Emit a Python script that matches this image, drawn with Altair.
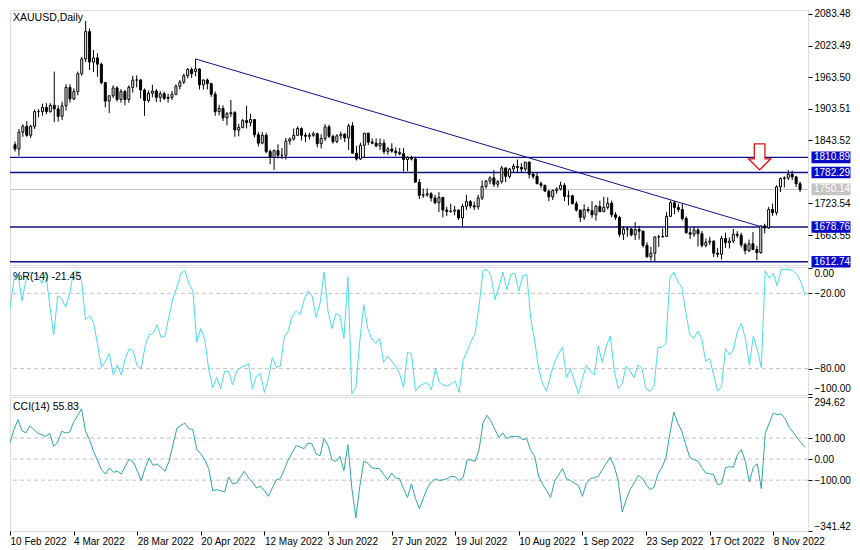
import json
import altair as alt
import pandas as pd

# ---------------- data ----------------
open_ = [
    1835, 1827, 1859, 1870, 1853, 1870, 1898, 1898, 1906, 1898,
    1910, 1903, 1889, 1909, 1944, 1922, 1936, 1970, 1998, 2050,
    1992, 2000, 1988, 1953, 1918, 1928, 1943, 1921, 1936, 1921,
    1944, 1958, 1958, 1939, 1919, 1933, 1937, 1925, 1932, 1923,
    1925, 1931, 1946, 1954, 1966, 1978, 1974, 1979, 1949, 1958,
    1951, 1931, 1898, 1904, 1886, 1894, 1896, 1863, 1868, 1881,
    1877, 1883, 1854, 1838, 1853, 1822, 1811, 1824, 1815, 1815,
    1842, 1846, 1853, 1866, 1853, 1851, 1853, 1856, 1837, 1847,
    1869, 1851, 1841, 1852, 1855, 1848, 1871, 1819, 1808, 1834,
    1857, 1840, 1838, 1833, 1838, 1822, 1827, 1823, 1820, 1818,
    1807, 1811, 1808, 1764, 1739, 1740, 1742, 1734, 1725, 1735,
    1711, 1708, 1709, 1711, 1696, 1718, 1727, 1719, 1717, 1734,
    1756, 1766, 1772, 1760, 1765, 1791, 1775, 1789, 1794, 1792,
    1789, 1802, 1779, 1775, 1761, 1758, 1747, 1736, 1748, 1751,
    1758, 1737, 1738, 1723, 1711, 1697, 1712, 1710, 1702, 1718,
    1708, 1716, 1724, 1702, 1697, 1665, 1675, 1675, 1664, 1674,
    1671, 1644, 1622, 1629, 1660, 1660, 1661, 1699, 1725, 1716,
    1712, 1695, 1668, 1665, 1673, 1666, 1644, 1650, 1652, 1629,
    1627, 1657, 1649, 1652, 1665, 1663, 1645, 1634, 1647, 1636,
    1630, 1681, 1677, 1712, 1706, 1755, 1771, 1772, 1779, 1774,
    1761,
]
high = [
    1841, 1865, 1874, 1880, 1873, 1902, 1903, 1913, 1914, 1914,
    1974, 1910, 1917, 1950, 1950, 1942, 1974, 2002, 2070, 2056,
    2015, 2009, 1991, 1954, 1929, 1948, 1946, 1941, 1939, 1948,
    1966, 1967, 1960, 1942, 1938, 1949, 1941, 1937, 1936, 1932,
    1937, 1950, 1958, 1970, 1981, 1982, 1998, 1980, 1959, 1961,
    1953, 1936, 1911, 1910, 1897, 1920, 1899, 1875, 1884, 1909,
    1894, 1884, 1859, 1859, 1858, 1826, 1826, 1836, 1829, 1848,
    1849, 1866, 1870, 1868, 1858, 1858, 1860, 1858, 1855, 1874,
    1873, 1854, 1855, 1860, 1857, 1875, 1878, 1833, 1839, 1857,
    1858, 1847, 1847, 1847, 1845, 1831, 1838, 1830, 1829, 1829,
    1813, 1814, 1812, 1770, 1752, 1752, 1745, 1740, 1745, 1736,
    1717, 1723, 1719, 1712, 1723, 1740, 1730, 1727, 1740, 1767,
    1768, 1775, 1787, 1768, 1795, 1792, 1791, 1799, 1807, 1800,
    1802, 1803, 1783, 1782, 1765, 1759, 1749, 1750, 1754, 1765,
    1762, 1748, 1740, 1728, 1711, 1722, 1717, 1728, 1721, 1729,
    1736, 1735, 1729, 1707, 1700, 1680, 1680, 1677, 1688, 1681,
    1672, 1650, 1641, 1660, 1664, 1676, 1707, 1729, 1728, 1723,
    1723, 1699, 1677, 1679, 1677, 1671, 1657, 1660, 1654, 1639,
    1662, 1668, 1659, 1675, 1671, 1668, 1649, 1655, 1669, 1643,
    1681, 1685, 1717, 1723, 1758, 1773, 1775, 1787, 1786, 1776,
    1765,
]
low = [
    1822, 1814, 1850, 1850, 1848, 1865, 1887, 1890, 1893, 1896,
    1878, 1879, 1882, 1900, 1915, 1920, 1929, 1966, 1992, 1977,
    1973, 1964, 1950, 1906, 1895, 1924, 1917, 1915, 1910, 1915,
    1934, 1944, 1923, 1890, 1915, 1925, 1916, 1916, 1920, 1915,
    1920, 1929, 1940, 1950, 1961, 1962, 1965, 1940, 1940, 1940,
    1926, 1890, 1891, 1880, 1872, 1888, 1850, 1851, 1866, 1866,
    1870, 1849, 1832, 1836, 1819, 1798, 1787, 1809, 1808, 1807,
    1835, 1843, 1852, 1843, 1840, 1845, 1850, 1830, 1828, 1842,
    1848, 1837, 1838, 1845, 1840, 1825, 1819, 1805, 1806, 1811,
    1834, 1836, 1830, 1825, 1817, 1816, 1820, 1814, 1815, 1784,
    1785, 1805, 1763, 1732, 1734, 1736, 1727, 1722, 1707, 1697,
    1700, 1706, 1701, 1692, 1680, 1711, 1714, 1711, 1712, 1730,
    1752, 1760, 1755, 1754, 1761, 1764, 1771, 1783, 1781, 1783,
    1785, 1771, 1770, 1760, 1753, 1745, 1728, 1730, 1742, 1748,
    1728, 1720, 1722, 1708, 1688, 1692, 1706, 1696, 1691, 1707,
    1707, 1712, 1697, 1692, 1660, 1654, 1660, 1661, 1654, 1655,
    1640, 1621, 1615, 1614, 1641, 1659, 1660, 1698, 1703, 1707,
    1691, 1666, 1656, 1660, 1642, 1640, 1640, 1645, 1622, 1621,
    1617, 1639, 1638, 1648, 1658, 1640, 1627, 1631, 1635, 1616,
    1628, 1667, 1675, 1700, 1701, 1745, 1754, 1768, 1768, 1755,
    1745,
]
close = [
    1827, 1859, 1870, 1853, 1870, 1898, 1898, 1906, 1898, 1910,
    1903, 1889, 1909, 1944, 1922, 1936, 1970, 1998, 2050, 1992,
    2000, 1988, 1953, 1918, 1928, 1943, 1921, 1936, 1921, 1944,
    1958, 1958, 1939, 1919, 1933, 1937, 1925, 1932, 1923, 1925,
    1931, 1946, 1954, 1966, 1978, 1970, 1979, 1949, 1958, 1951,
    1931, 1898, 1904, 1886, 1894, 1896, 1863, 1868, 1881, 1877,
    1883, 1854, 1838, 1853, 1822, 1811, 1824, 1815, 1815, 1842,
    1846, 1853, 1866, 1853, 1851, 1853, 1856, 1837, 1847, 1869,
    1851, 1841, 1852, 1855, 1848, 1871, 1819, 1808, 1834, 1857,
    1840, 1838, 1833, 1838, 1822, 1827, 1823, 1820, 1818, 1807,
    1811, 1808, 1764, 1739, 1740, 1742, 1734, 1725, 1735, 1711,
    1708, 1709, 1711, 1696, 1718, 1727, 1719, 1717, 1734, 1756,
    1766, 1772, 1760, 1765, 1791, 1775, 1789, 1794, 1792, 1789,
    1802, 1779, 1775, 1761, 1758, 1747, 1736, 1748, 1751, 1758,
    1737, 1738, 1723, 1711, 1697, 1712, 1710, 1702, 1718, 1708,
    1716, 1724, 1702, 1697, 1665, 1675, 1675, 1664, 1674, 1671,
    1644, 1622, 1629, 1660, 1660, 1661, 1699, 1725, 1716, 1712,
    1695, 1668, 1665, 1673, 1666, 1644, 1650, 1652, 1629, 1627,
    1657, 1649, 1652, 1665, 1663, 1645, 1634, 1647, 1636, 1630,
    1681, 1677, 1712, 1706, 1755, 1771, 1772, 1779, 1774, 1761,
    1750.14,
]
williams_r = [
    -32, -9, -4, -26, -10, -3, -4, -6, -12, -3,
    -30, -53, -22, -24, -31, -20, -3, -2, -10, -41,
    -38, -43, -60, -79, -74, -68, -85, -77, -85, -72,
    -64, -66, -78, -80, -62, -53, -52, -45, -55, -54,
    -38, -24, -15, -4, -2, -12, -18, -59, -48, -57,
    -81, -95, -87, -96, -82, -82, -93, -82, -79, -78,
    -76, -96, -86, -84, -99, -88, -71, -79, -78, -55,
    -50, -38, -34, -37, -25, -18, -22, -39, -28, -3,
    -34, -48, -36, -38, -56, -7, -100, -95, -58, -29,
    -48, -56, -60, -56, -75, -70, -74, -78, -84, -95,
    -67, -68, -98, -94, -92, -91, -97, -80, -91, -93,
    -94, -92, -90, -99, -73, -66, -58, -52, -30, -2,
    -1, -6, -25, -15, -3, -17, -5, -4, -18, -6,
    -5, -40, -58, -80, -92, -98, -85, -75, -68, -63,
    -87, -80, -90, -100, -88, -77, -82, -85, -62, -75,
    -62, -54, -81, -96, -92, -78, -82, -87, -77, -80,
    -96, -98, -94, -63, -63, -60, -8, -3, -11, -15,
    -35, -53, -56, -50, -56, -74, -72, -85, -98, -94,
    -64, -69, -65, -50, -44, -56, -77, -54, -65, -79,
    -2, -8, -4, -14, -1, -1, -1, -2, -5, -11,
    -21.45,
]
cci = [
    76, 140, 187, 135, 124, 158, 140, 124, 116, 108,
    121, 60, 81, 132, 124, 128, 176, 205, 239, 132,
    92, 37, -5, -50, -71, -42, -63, -58, -71, -34,
    0, -14, -55, -102, -42, 5, -30, -23, -40, -58,
    -11, 68, 147, 160, 171, 144, 140, 45, 24, -3,
    -46, -150, -145, -150, -156, -85, -118, -114, -85, -58,
    -90, -110, -137, -129, -150, -177, -137, -98, -93, -50,
    -3, 30, 65, 57, 49, 76, 72, 24, 16, 97,
    65, -3, -11, 13, -55, 68, -137, -280, -129, -11,
    -19, -42, -44, -46, -74, -98, -66, -90, -93, -140,
    -182, -118, -188, -235, -185, -137, -109, -93, -102, -98,
    -93, -82, -84, -102, -87, -3, -5, -11, 45, 171,
    208, 179, 140, 103, 124, 97, 108, 106, 108, 92,
    97, 40, 13, -82, -120, -150, -182, -106, -75, -46,
    -93, -102, -115, -125, -177, -114, -93, -88, -82, -50,
    -20, 8, -34, -102, -251, -193, -145, -114, -77, -90,
    -120, -145, -134, -70, -40, 5, 120, 223, 170, 132,
    68, 8, -3, -8, -40, -66, -70, -74, -121, -118,
    -40, -36, -39, 21, 45, -11, -109, -39, -23, -140,
    124, 170, 218, 211, 214, 192, 151, 128, 100, 78,
    55.83,
]

tick_positions = [0, 16, 32, 48, 64, 80, 96, 112, 128, 144, 160, 176, 192]
tick_labels = ["10 Feb 2022", "4 Mar 2022", "28 Mar 2022", "20 Apr 2022",
               "12 May 2022", "3 Jun 2022", "27 Jun 2022", "19 Jul 2022",
               "10 Aug 2022", "1 Sep 2022", "23 Sep 2022", "17 Oct 2022",
               "8 Nov 2022"]
price_ticks = [2083.48, 2023.49, 1963.50, 1903.51, 1843.52, 1723.54, 1663.55]
level_prices = [1810.89, 1782.29, 1678.76, 1612.74]
bid_price = 1750.14
box_prices = [1810.89, 1782.29, 1750.14, 1678.76, 1612.74]
box_colors = ["#0a0ac8", "#0a0ac8", "#c4c4c4", "#0a0ac8", "#0a0ac8"]
trend_bar = [46, 190]
trend_price = [1998.0, 1679.5]
arrow_bar = [189.7]
arrow_price = [1812.0]
wr_levels = [-20, -80]
cci_levels = [100, 0, -100]

# ---------------- frames ----------------
n = len(close)
dates = [d for d in pd.bdate_range("2022-02-10", "2022-11-18")
         if d != pd.Timestamp("2022-04-15")][:n]
df = pd.DataFrame({
    "i": list(range(n)), "date": [d.strftime("%Y-%m-%d") for d in dates],
    "open": open_, "high": high, "low": low, "close": close,
    "wr": williams_r, "cci": cci,
})
levels_df = pd.DataFrame({"price": level_prices})
bid_df = pd.DataFrame({"price": [bid_price]})
boxes_df = pd.DataFrame({"price": box_prices,
                         "label": [f"{p:.2f}" for p in box_prices],
                         "col": box_colors})
trend_df = pd.DataFrame({"i": trend_bar, "price": trend_price})
arrow_df = pd.DataFrame({"i": arrow_bar, "price": arrow_price})

W = 798
H1, H2, H3 = 255, 128, 134
FONT = "Liberation Sans"
NAVY = "#10108a"

xs = alt.Scale(domain=[0, 200.75], nice=False, zero=False)
ys_price = alt.Scale(domain=[1606.6, 2091.0], nice=False, zero=False)
ys_wr = alt.Scale(domain=[-101, 1], nice=False, zero=False)
ys_cci = alt.Scale(domain=[-341.42, 294.62], nice=False, zero=False)

common_axis = dict(orient="right", format=".2f", tickSize=4, tickColor="black",
                   labelColor="black", labelFontSize=10, labelFont=FONT,
                   labelPadding=2, domain=False, grid=False)
price_axis = alt.Axis(values=price_ticks, **common_axis)
wr_axis = alt.Axis(values=[0, -20, -80, -100], labelBaseline={
    "condition": [{"test": "datum.value > -1", "value": "top"},
                  {"test": "datum.value < -99", "value": "bottom"}],
    "value": "middle"}, **common_axis)
cci_axis = alt.Axis(values=[294.62, 100, 0, -100, -341.42], labelBaseline={
    "condition": [{"test": "datum.value > 200", "value": "top"},
                  {"test": "datum.value < -200", "value": "bottom"}],
    "value": "middle"}, **common_axis)


def PX(field="i"):
    return alt.X(f"{field}:Q", scale=xs, axis=None)


def PY(field):
    return alt.Y(f"{field}:Q", scale=ys_price, axis=price_axis, title=None)


# ---------------- price panel ----------------
lines = alt.Chart(levels_df).mark_rule(color=NAVY, strokeWidth=1.3).encode(y=PY("price"))
bid_line = alt.Chart(bid_df).mark_rule(color="#c0c0c0", strokeWidth=1).encode(y=PY("price"))
trend = alt.Chart(trend_df).mark_line(color=NAVY, strokeWidth=1).encode(x=PX(), y=PY("price"))
wicks = alt.Chart(df).mark_rule(color="black", strokeWidth=1, clip=True).encode(
    x=PX(), y=PY("low"), y2="high:Q")
bodies = alt.Chart(df).mark_bar(size=2, stroke="black", strokeWidth=1, clip=True).encode(
    x=PX(), y=PY("open"), y2="close:Q",
    fill=alt.condition("datum.close >= datum.open", alt.value("white"), alt.value("black")),
    tooltip=["date:N", "open:Q", "high:Q", "low:Q", "close:Q"])
arrow = alt.Chart(arrow_df).mark_point(
    shape="M -0.41 -1 L 0.41 -1 L 0.41 0.15 L 0.85 0.15 L 0 1 L -0.85 0.15 L -0.41 0.15 Z",
    size=676, filled=True, fill="white", stroke="#e01010", strokeWidth=1.3, opacity=1
).encode(x=PX(), y=PY("price"))
boxes = alt.Chart(boxes_df).mark_point(
    shape="M -1 -0.3 L 1 -0.3 L 1 0.3 L -1 0.3 Z", size=1521, filled=True, opacity=1,
    strokeWidth=0
).encode(x=alt.value(W + 23), y=PY("price"), fill=alt.Fill("col:N", scale=None))
box_text = alt.Chart(boxes_df).mark_text(
    align="left", baseline="middle", color="white", fontSize=10, font=FONT
).encode(x=alt.value(W + 6), y=PY("price"), text="label:N")
title1 = alt.Chart(pd.DataFrame({"t": ["XAUUSD,Daily"]})).mark_text(
    align="left", baseline="middle", fontSize=10.5, font=FONT, color="black"
).encode(x=alt.value(3), y=alt.value(8), text="t:N")

price_panel = alt.layer(lines, bid_line, trend, wicks, bodies, arrow, boxes, box_text,
                        title1).properties(width=W, height=H1)

# ---------------- %R panel ----------------
wr_lines = alt.Chart(pd.DataFrame({"v": wr_levels})).mark_rule(
    color="#c0c0c0", strokeDash=[4, 3], strokeWidth=1
).encode(y=alt.Y("v:Q", scale=ys_wr, axis=wr_axis, title=None))
wr_line = alt.Chart(df).mark_line(color="#48dde6", strokeWidth=1, clip=True).encode(
    x=PX(), y=alt.Y("wr:Q", scale=ys_wr, axis=wr_axis, title=None))
title2 = alt.Chart(pd.DataFrame({"t": ["%R(14) -21.45"]})).mark_text(
    align="left", baseline="middle", fontSize=10.5, font=FONT, color="black"
).encode(x=alt.value(3), y=alt.value(10), text="t:N")
wr_panel = alt.layer(wr_lines, wr_line, title2).properties(width=W, height=H2)

# ---------------- CCI panel ----------------
label_expr = json.dumps(tick_labels) + "[round(datum.value / 16)]"
x_axis = alt.Axis(values=tick_positions, labelExpr=label_expr, labelAlign="left",
                  labelBaseline="top", labelFlush=False, labelOverlap=False,
                  tickSize=4, tickColor="black", labelColor="black",
                  labelFontSize=10, labelFont=FONT, labelPadding=1,
                  domain=False, grid=False, title=None)
cci_lines = alt.Chart(pd.DataFrame({"v": cci_levels})).mark_rule(
    color="#c0c0c0", strokeDash=[4, 3], strokeWidth=1
).encode(y=alt.Y("v:Q", scale=ys_cci, axis=cci_axis, title=None))
cci_line = alt.Chart(df).mark_line(color="#2fa6a6", strokeWidth=1, clip=True).encode(
    x=alt.X("i:Q", scale=xs, axis=x_axis),
    y=alt.Y("cci:Q", scale=ys_cci, axis=cci_axis, title=None))
title3 = alt.Chart(pd.DataFrame({"t": ["CCI(14) 55.83"]})).mark_text(
    align="left", baseline="middle", fontSize=10.5, font=FONT, color="black"
).encode(x=alt.value(3), y=alt.value(10), text="t:N")
cci_panel = alt.layer(cci_lines, cci_line, title3).properties(width=W, height=H3)

chart = alt.vconcat(price_panel, wr_panel, cci_panel, spacing=2, bounds="flush").properties(
    padding=0, background="white"
).configure_view(stroke="black", strokeWidth=1).configure(font=FONT)

chart.save("out.html", embed_options={"renderer": "svg", "actions": False})
